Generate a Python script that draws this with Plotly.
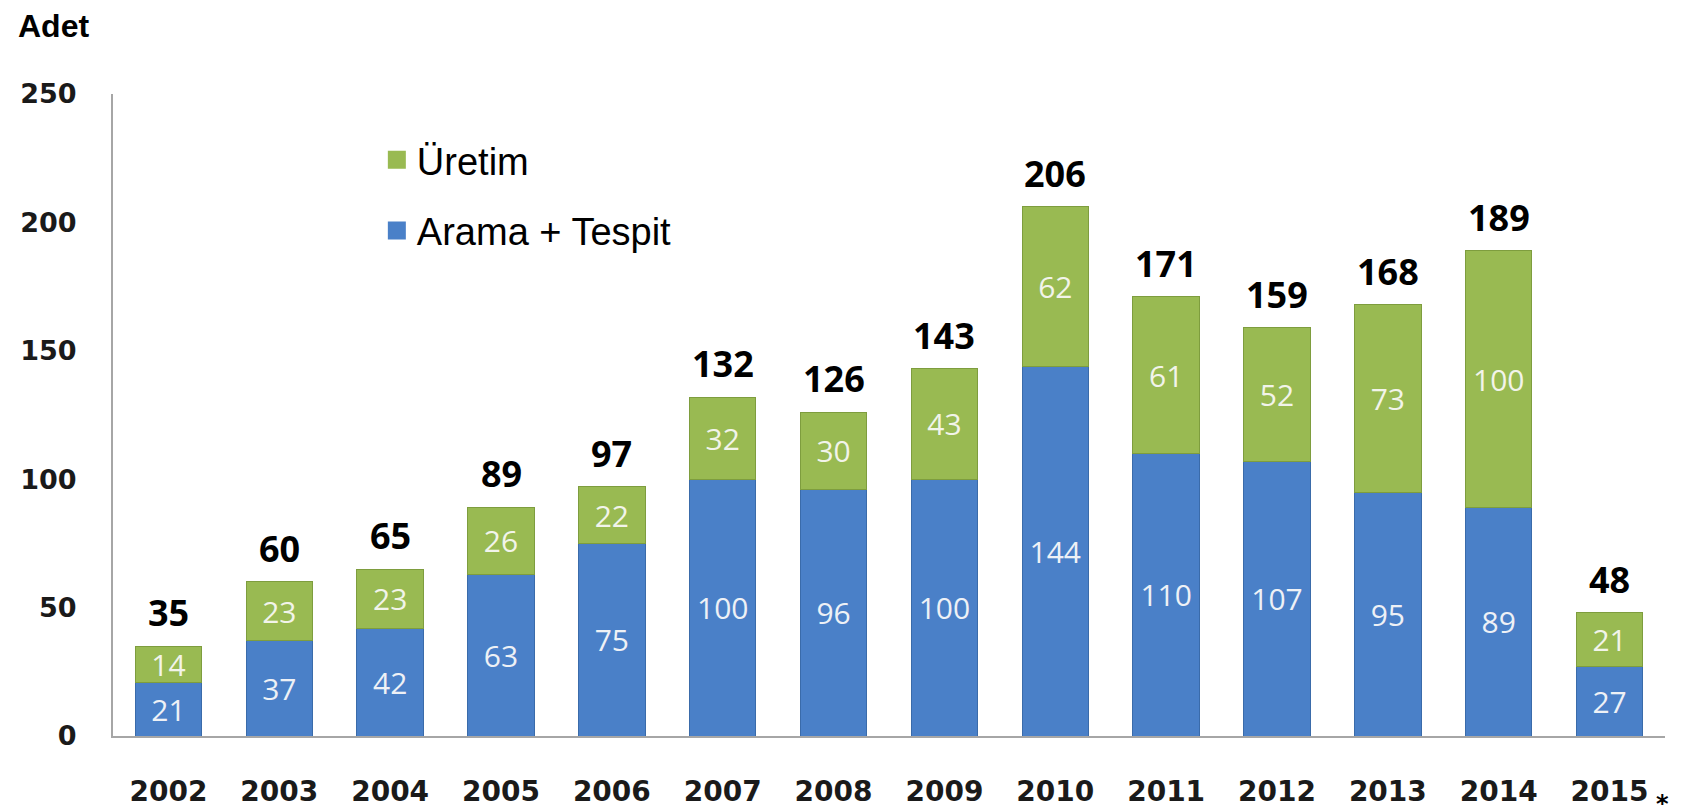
import plotly.graph_objects as go

years = ["2002", "2003", "2004", "2005", "2006", "2007", "2008", "2009",
         "2010", "2011", "2012", "2013", "2014", "2015"]
arama_tespit = [21, 37, 42, 63, 75, 100, 96, 100, 144, 110, 107, 95, 89, 27]
uretim = [14, 23, 23, 26, 22, 32, 30, 43, 62, 61, 52, 73, 100, 21]
totals = [35, 60, 65, 89, 97, 132, 126, 143, 206, 171, 159, 168, 189, 48]
y_ticks = [0, 50, 100, 150, 200, 250]

BLUE = "#4A80C8"
GREEN = "#99BA52"

fig = go.Figure()
fig.add_trace(go.Bar(
    x=years, y=arama_tespit, name="Arama + Tespit",
    marker=dict(color=BLUE, line=dict(color="#3A6BAA", width=1)),
    text=[str(v) for v in arama_tespit], textposition="inside",
    insidetextanchor="middle", constraintext="none", textangle=0,
    textfont=dict(family="Open Sans", size=30, color="#EEF1F6"),
    showlegend=False, hoverinfo="skip",
))
fig.add_trace(go.Bar(
    x=years, y=uretim, name="Üretim",
    marker=dict(color=GREEN, line=dict(color="#7E9D3E", width=1)),
    text=[str(v) for v in uretim], textposition="inside",
    insidetextanchor="middle", constraintext="none", textangle=0,
    textfont=dict(family="Open Sans", size=30, color="#F2F4EA"),
    showlegend=False, hoverinfo="skip",
))
# legend swatches (larger squares than the default bar legend symbol)
fig.add_trace(go.Scatter(
    x=[None], y=[None], mode="markers", name="Üretim", legend="legend",
    marker=dict(symbol="square", size=16, color=GREEN,
                line=dict(color=GREEN, width=2)),
))
fig.add_trace(go.Scatter(
    x=[None], y=[None], mode="markers", name="Arama + Tespit", legend="legend2",
    marker=dict(symbol="square", size=16, color=BLUE,
                line=dict(color=BLUE, width=2)),
))

annotations = []
for i, t in enumerate(totals):
    annotations.append(dict(
        x=i, y=t, xref="x", yref="y", text=str(t), showarrow=False,
        yanchor="bottom", yshift=7,
        font=dict(family="Open Sans", size=36, color="#000000", weight="bold"),
    ))
annotations.append(dict(
    x=len(years) - 1, y=0, xref="x", yref="y", text="*", showarrow=False,
    xanchor="left", yanchor="middle", xshift=44, yshift=-68,
    font=dict(family="DejaVu Sans", size=24, color="#000000", weight="bold"),
))
annotations.append(dict(
    x=-0.0625, y=1.106, xref="paper", yref="paper", text="Adet", showarrow=False,
    xanchor="left", yanchor="middle",
    font=dict(family="Liberation Sans", size=32, color="#000000", weight="bold"),
))

legend_style = dict(
    xanchor="left", yanchor="middle",
    font=dict(family="Liberation Sans", size=38, color="#000000"),
    bgcolor="rgba(0,0,0,0)", itemwidth=30,
)

fig.update_layout(
    barmode="stack",
    bargap=0.4,
    width=1684, height=805,
    margin=dict(l=105, r=27, t=86, b=77),
    plot_bgcolor="white", paper_bgcolor="white",
    showlegend=True,
    legend=dict(x=0.17, y=0.897, **legend_style),
    legend2=dict(x=0.17, y=0.787, **legend_style),
    annotations=annotations,
    xaxis=dict(
        type="category", range=[-0.5, len(years) - 0.5],
        showline=True, linecolor="#A6A6A6", linewidth=2,
        ticks="", ticklabelstandoff=29, automargin=False,
        tickfont=dict(family="DejaVu Sans", size=28, color="#1A1A1A", weight="bold"),
        showgrid=False, zeroline=False,
    ),
    yaxis=dict(
        range=[0, 250], tickvals=y_ticks,
        showline=True, linecolor="#A6A6A6", linewidth=2,
        ticks="", ticklabelstandoff=29, automargin=False,
        tickfont=dict(family="DejaVu Sans", size=27, color="#1A1A1A", weight="bold"),
        showgrid=False, zeroline=False,
    ),
)
fig.write_html("out.html")
